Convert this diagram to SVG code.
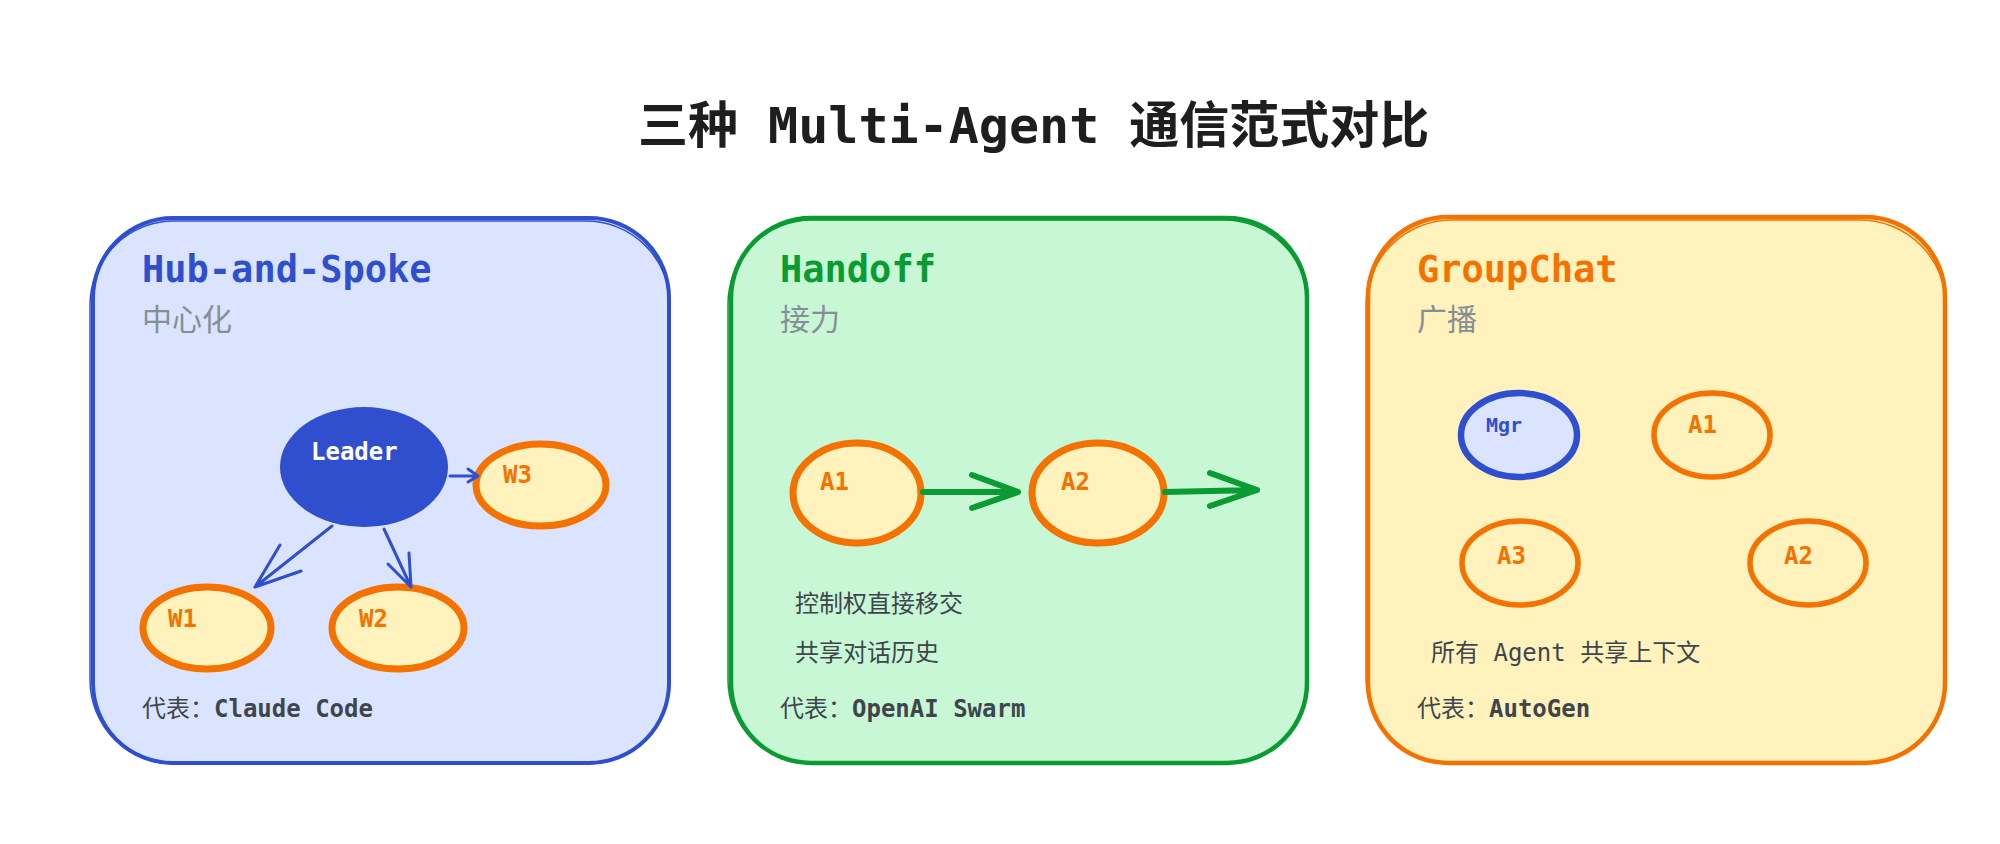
<svg xmlns="http://www.w3.org/2000/svg" width="2000" height="844" viewBox="0 0 2000 844">
<style>
.f{font-family:"DejaVu Sans Mono","Noto Sans CJK SC",monospace}
.title{font-size:50px;font-weight:bold;fill:#1e1e1e}
.ph{font-size:37px;font-weight:bold}
.sub{font-size:30px;fill:#868e96}
.body{font-size:24px;fill:#3f454c}
.b{font-weight:bold}
.lbl{font-size:24px;font-weight:bold;fill:#f47200}
.onode{fill:#fff2bd;stroke:#f47200;stroke-width:7}
.onode2{fill:none;stroke:#f47200;stroke-width:5.5}
.blu{stroke:#2f4fcf;fill:none;stroke-width:3;stroke-linecap:round;stroke-linejoin:round}
.grn{stroke:#0a9b32;fill:none;stroke-width:6;stroke-linecap:round;stroke-linejoin:round}
</style>
<rect width="2000" height="844" fill="#ffffff"/>
<text class="f title" x="638" y="143">三种 Multi-Agent 通信范式对比</text>

<g id="panel-hub">
<rect x="93" y="218" width="576" height="545" rx="80" fill="#dbe4ff" stroke="#2f4fcf" stroke-width="4"/>
<rect x="90" y="221" width="580" height="543" rx="84" fill="none" stroke="#2f4fcf" stroke-width="1.5"/>
<text class="f ph" x="142" y="282" fill="#2f4fcf">Hub-and-Spoke</text>
<text class="f sub" x="142" y="330">中心化</text>
<text class="f body" x="142" y="717">代表：<tspan class="b">Claude Code</tspan></text>
</g>

<g id="panel-handoff">
<rect x="731" y="218" width="576" height="545" rx="80" fill="#c7f7d5" stroke="#0a9b32" stroke-width="4.5"/>
<rect x="728" y="220" width="580" height="544" rx="84" fill="none" stroke="#0a9b32" stroke-width="1.5"/>
<text class="f ph" x="780" y="282" fill="#0a9b32">Handoff</text>
<text class="f sub" x="780" y="330">接力</text>
<text class="f body" x="795" y="612">控制权直接移交</text>
<text class="f body" x="795" y="661">共享对话历史</text>
<text class="f body" x="780" y="717">代表：<tspan class="b">OpenAI Swarm</tspan></text>
</g>

<g id="panel-groupchat">
<rect x="1368" y="217" width="577" height="546" rx="80" fill="#fff2bd" stroke="#f47200" stroke-width="4.5"/>
<rect x="1366" y="220" width="580" height="544" rx="86" fill="none" stroke="#f47200" stroke-width="1.5"/>
<text class="f ph" x="1417" y="282" fill="#f47200">GroupChat</text>
<text class="f sub" x="1417" y="330">广播</text>
<text class="f body" x="1431" y="661">所有 Agent 共享上下文</text>
<text class="f body" x="1417" y="717">代表：<tspan class="b">AutoGen</tspan></text>
</g>

<g id="node-leader">
<ellipse cx="364" cy="467" rx="84" ry="60" fill="#2f4fcf"/>
<text class="f" x="311" y="460" font-size="24" font-weight="bold" fill="#ffffff">Leader</text>
</g>
<g id="node-w3">
<ellipse class="onode" cx="541" cy="485" rx="65" ry="41"/>
<text class="f lbl" x="503" y="483">W3</text>
</g>
<g id="node-w1">
<ellipse class="onode" cx="207" cy="628" rx="64" ry="41"/>
<text class="f lbl" x="168" y="627">W1</text>
</g>
<g id="node-w2">
<ellipse class="onode" cx="398" cy="628" rx="66" ry="41"/>
<text class="f lbl" x="359" y="627">W2</text>
</g>

<g id="node-h-a1">
<ellipse class="onode" cx="857" cy="493" rx="64" ry="50"/>
<text class="f lbl" x="820" y="490">A1</text>
</g>
<g id="node-h-a2">
<ellipse class="onode" cx="1098" cy="493" rx="66" ry="50"/>
<text class="f lbl" x="1061" y="490">A2</text>
</g>

<g id="node-mgr">
<ellipse cx="1519" cy="435" rx="58" ry="42" fill="#dbe4ff" stroke="#2f4fcf" stroke-width="6.5"/>
<text class="f" x="1486" y="432" font-size="20" font-weight="bold" fill="#2f4fcf">Mgr</text>
</g>
<g id="node-g-a1">
<ellipse class="onode2" cx="1712" cy="435" rx="58" ry="42"/>
<text class="f lbl" x="1688" y="433">A1</text>
</g>
<g id="node-g-a3">
<ellipse class="onode2" cx="1520" cy="563" rx="58" ry="42"/>
<text class="f lbl" x="1497" y="564">A3</text>
</g>
<g id="node-g-a2">
<ellipse class="onode2" cx="1808" cy="563" rx="58" ry="42"/>
<text class="f lbl" x="1784" y="564">A2</text>
</g>

<g id="connectors">
<path class="blu" d="M450 476 L478 476 M468 469 L478 476 L468 482"/>
<path class="blu" d="M332 526 L255 587 M280 545 L255 587 L301 571"/>
<path class="blu" d="M384 529 L411 587 M388 564 L411 587 L409 553"/>
<path class="grn" d="M923 492 L1018 492 M972 475 L1018 492 L972 508"/>
<path class="grn" d="M1165 492 L1257 490 M1210 473 L1257 490 L1210 506"/>
</g>
</svg>
